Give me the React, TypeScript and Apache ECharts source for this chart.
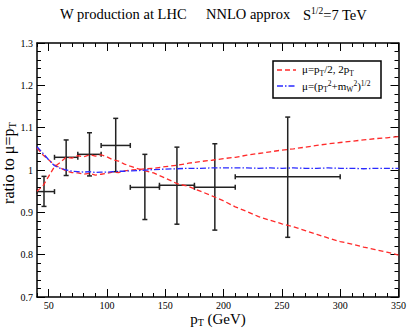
import React, { useEffect, useRef } from "react";
import * as echarts from "echarts";

// ---- data ----
const xGrid = [40, 45, 50, 55, 60, 65, 70, 75, 80, 85, 90, 95, 100, 105, 110, 115, 120, 130, 140, 150, 160, 170, 180, 190, 200, 210, 220, 230, 240, 250, 260, 270, 280, 290, 300, 310, 320, 330, 340, 350];
const redA = [0.950, 0.962, 0.985, 1.008, 1.018, 1.030, 1.028, 1.034, 1.031, 1.036, 1.033, 1.036, 1.031, 1.024, 1.021, 1.014, 1.009, 1.000, 0.993, 0.981, 0.968, 0.961, 0.950, 0.939, 0.927, 0.913, 0.902, 0.890, 0.881, 0.873, 0.866, 0.857, 0.848, 0.839, 0.831, 0.825, 0.818, 0.812, 0.806, 0.799];
const redB = [1.052, 1.036, 1.024, 1.012, 1.005, 0.998, 0.994, 0.993, 0.990, 0.992, 0.988, 0.990, 0.992, 0.995, 0.994, 0.998, 1.000, 1.002, 1.004, 1.008, 1.011, 1.016, 1.020, 1.023, 1.027, 1.030, 1.035, 1.039, 1.043, 1.047, 1.050, 1.054, 1.058, 1.062, 1.065, 1.068, 1.071, 1.074, 1.076, 1.079];
const blueC = [1.055, 1.040, 1.024, 1.010, 1.004, 1.000, 0.997, 0.996, 0.995, 0.996, 0.994, 0.995, 0.995, 0.996, 0.997, 0.997, 0.998, 0.999, 1.001, 1.002, 1.003, 1.004, 1.004, 1.005, 1.005, 1.005, 1.005, 1.004, 1.005, 1.004, 1.005, 1.004, 1.004, 1.005, 1.004, 1.004, 1.003, 1.004, 1.004, 1.004];

const dataX = [46, 65, 85, 107.5, 132.5, 160, 192.5, 255];
const dataXLow = [40, 55, 75, 95, 120, 145, 175, 210];
const dataXHigh = [55, 75, 95, 120, 145, 175, 210, 300];
const dataY = [0.949, 1.030, 1.037, 1.058, 0.959, 0.964, 0.959, 0.984];
const dataYLow = [0.914, 0.987, 0.986, 0.996, 0.883, 0.872, 0.858, 0.841];
const dataYHigh = [0.985, 1.071, 1.088, 1.122, 1.037, 1.054, 1.062, 1.125];

const xMajorTicks = [50, 100, 150, 200, 250, 300, 350];

const FONT = "'Liberation Serif', 'DejaVu Serif', serif";

export default function App() {
  const ref = useRef<HTMLDivElement>(null);
  useEffect(() => {
    document.body.style.margin = "0";
    const chart = echarts.init(ref.current!, null, { renderer: "svg" });
    const grid = { left: 37, top: 43, width: 363, height: 254 };
    const axisLine = { show: true, lineStyle: { color: "#000", width: 1.5 } };
    const lbl = { color: "#000", fontFamily: FONT, fontSize: 10 };
    const tickStyle = { color: "#000", width: 1 };
    const xBase = { type: "value", min: 40, max: 350, splitLine: { show: false } };
    const yBase = { type: "value", min: 0.7, max: 1.3, interval: 0.1, splitLine: { show: false } };

    const errData = dataX.map((x, i) => [x, dataY[i], dataXLow[i], dataXHigh[i], dataYLow[i], dataYHigh[i]]);
    const titleFont = { fontFamily: FONT, fontSize: 14.5, fill: "#000" };

    chart.setOption({
      animation: false,
      grid,
      xAxis: [
        {
          ...xBase, position: "bottom", interval: 10,
          axisLine,
          axisTick: { show: true, inside: true, length: 4, lineStyle: tickStyle },
          axisLabel: { ...lbl, margin: 3, formatter: (v: number) => (v % 50 === 0 ? String(v) : "") },
        },
        {
          ...xBase, position: "bottom",
          axisLine: { show: false },
          axisTick: { show: true, inside: true, length: 8, customValues: xMajorTicks, lineStyle: tickStyle },
          axisLabel: { show: false },
        },
        {
          ...xBase, position: "top", interval: 10,
          axisLine,
          axisTick: { show: true, inside: true, length: 4, lineStyle: tickStyle },
          axisLabel: { show: false },
        },
        {
          ...xBase, position: "top",
          axisLine: { show: false },
          axisTick: { show: true, inside: true, length: 8, customValues: xMajorTicks, lineStyle: tickStyle },
          axisLabel: { show: false },
        },
      ],
      yAxis: [
        {
          ...yBase, position: "left",
          axisLine,
          axisTick: { show: true, inside: true, length: 8, lineStyle: tickStyle },
          minorTick: { show: true, splitNumber: 5, length: 4, lineStyle: tickStyle },
          axisLabel: { ...lbl, margin: 4, formatter: (v: number) => String(Math.round(v * 10) / 10) },
        },
        {
          ...yBase, position: "right",
          axisLine,
          axisTick: { show: true, inside: true, length: 8, lineStyle: tickStyle },
          minorTick: { show: true, splitNumber: 5, length: 4, lineStyle: tickStyle },
          axisLabel: { show: false },
        },
      ],
      series: [
        {
          type: "line", xAxisIndex: 0, yAxisIndex: 0, showSymbol: false, symbol: "none",
          data: xGrid.map((x, i) => [x, redA[i]]),
          lineStyle: { color: "#ff2a2a", width: 1.3, type: [5, 3] },
        },
        {
          type: "line", xAxisIndex: 0, yAxisIndex: 0, showSymbol: false, symbol: "none",
          data: xGrid.map((x, i) => [x, redB[i]]),
          lineStyle: { color: "#ff2a2a", width: 1.3, type: [5, 3] },
        },
        {
          type: "line", xAxisIndex: 0, yAxisIndex: 0, showSymbol: false, symbol: "none",
          data: xGrid.map((x, i) => [x, blueC[i]]),
          lineStyle: { color: "#2a2aff", width: 1.3, type: [6, 2, 1.5, 2] },
        },
        {
          type: "custom", xAxisIndex: 0, yAxisIndex: 0,
          data: errData,
          encode: { x: [0, 2, 3], y: [1, 4, 5] },
          renderItem: (params: any, api: any) => {
            const x = api.value(0), y = api.value(1);
            const l = api.coord([api.value(2), y]);
            const r = api.coord([api.value(3), y]);
            const b = api.coord([x, api.value(4)]);
            const t = api.coord([x, api.value(5)]);
            const cap = 2.5;
            const style = { stroke: "#222", lineWidth: 1.5 };
            const ln = (x1: number, y1: number, x2: number, y2: number) => ({ type: "line", shape: { x1, y1, x2, y2 }, style });
            return {
              type: "group",
              children: [
                ln(l[0], l[1], r[0], r[1]),
                ln(t[0], t[1], b[0], b[1]),
                ln(l[0], l[1] - cap, l[0], l[1] + cap),
                ln(r[0], r[1] - cap, r[0], r[1] + cap),
                ln(t[0] - cap, t[1], t[0] + cap, t[1]),
                ln(b[0] - cap, b[1], b[0] + cap, b[1]),
              ],
            };
          },
        },
      ],
      graphic: [
        { type: "text", x: 60, y: 14, style: { ...titleFont, text: "W production at LHC", align: "left", verticalAlign: "middle" } },
        { type: "text", x: 206, y: 14, style: { ...titleFont, text: "NNLO approx", align: "left", verticalAlign: "middle" } },
        {
          type: "text", x: 303, y: 14,
          style: {
            text: "{n|S}{sup|1/2}{n|=7 TeV}",
            align: "left", verticalAlign: "middle",
            fill: "#000",
            rich: {
              n: { fontFamily: FONT, fontSize: 14.5, lineHeight: 17, verticalAlign: "bottom", fill: "#000" },
              sup: { fontFamily: FONT, fontSize: 9.5, lineHeight: 10, verticalAlign: "top", fill: "#000" },
            },
          },
        },
        {
          type: "text", x: 9, y: 163, rotation: Math.PI / 2,
          style: {
            text: "{n|ratio to μ=p}{sub|T}",
            align: "center", verticalAlign: "middle",
            fill: "#000",
            rich: {
              n: { fontFamily: FONT, fontSize: 16, lineHeight: 17, verticalAlign: "top", fill: "#000" },
              sub: { fontFamily: FONT, fontSize: 10.5, lineHeight: 10, verticalAlign: "bottom", fill: "#000" },
            },
          },
        },
        {
          type: "text", x: 218, y: 319,
          style: {
            text: "{n|p}{sub|T}{n| (GeV)}",
            align: "center", verticalAlign: "middle",
            fill: "#000",
            rich: {
              n: { fontFamily: FONT, fontSize: 15, lineHeight: 16, verticalAlign: "top", fill: "#000" },
              sub: { fontFamily: FONT, fontSize: 10, lineHeight: 10, verticalAlign: "bottom", fill: "#000" },
            },
          },
        },
        {
          type: "rect", shape: { x: 273, y: 61, width: 108, height: 37 },
          style: { fill: "#fff", stroke: "#000", lineWidth: 1.5 }, z: 10,
        },
        {
          type: "line", shape: { x1: 277, y1: 70, x2: 296, y2: 70 }, z: 11,
          style: { stroke: "#ff2a2a", lineWidth: 1.3, lineDash: [5, 3] },
        },
        {
          type: "line", shape: { x1: 277, y1: 86, x2: 296, y2: 86 }, z: 11,
          style: { stroke: "#2a2aff", lineWidth: 1.3, lineDash: [6, 2, 1.5, 2] },
        },
        {
          type: "text", x: 302, y: 70, z: 11,
          style: {
            text: "{n|μ=p}{sub|T}{n|/2, 2p}{sub|T}",
            verticalAlign: "middle", fill: "#000",
            rich: {
              n: { fontFamily: FONT, fontSize: 11, lineHeight: 14, verticalAlign: "top", fill: "#000" },
              sub: { fontFamily: FONT, fontSize: 7.5, lineHeight: 9, verticalAlign: "bottom", fill: "#000" },
            },
          },
        },
        {
          type: "text", x: 302, y: 86, z: 11,
          style: {
            text: "{n|μ=(p}{sub|T}{sup|2}{n|+m}{sub|W}{sup|2}{n|)}{sup|1/2}",
            verticalAlign: "middle", fill: "#000",
            rich: {
              n: { fontFamily: FONT, fontSize: 11, lineHeight: 14, verticalAlign: "middle", fill: "#000" },
              sub: { fontFamily: FONT, fontSize: 7.5, lineHeight: 9, verticalAlign: "bottom", fill: "#000" },
              sup: { fontFamily: FONT, fontSize: 7.5, lineHeight: 9, verticalAlign: "top", fill: "#000" },
            },
          },
        },
      ],
    });
    return () => chart.dispose();
  }, []);
  return <div ref={ref} style={{ width: 409, height: 329 }} />;
}
